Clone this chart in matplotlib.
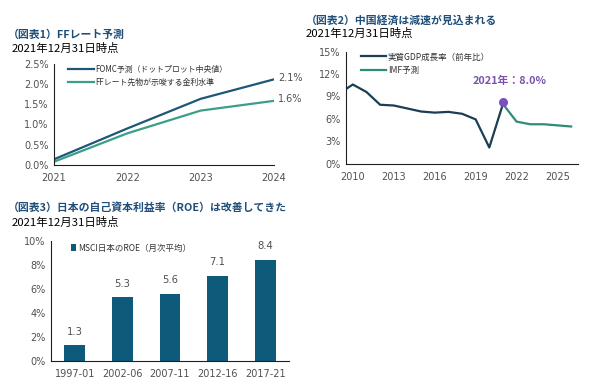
import numpy as np
import matplotlib
matplotlib.use("Agg")
import matplotlib.pyplot as plt

plt.rcParams['font.family'] = ['DejaVu Sans', 'Noto Sans CJK JP']
JP = ['Noto Sans CJK JP', 'DejaVu Sans']

# chart 1: FF rate projection
ff_years = [2021, 2022, 2023, 2024]
fomc = [0.14, 0.90, 1.63, 2.11]
ff_futures = [0.08, 0.78, 1.34, 1.58]
ff_end_labels = ["2.1%", "1.6%"]

# chart 2: China real GDP growth
gdp_years = list(range(2009, 2022))
gdp = [9.4, 10.6, 9.6, 7.9, 7.8, 7.4, 7.0, 6.85, 6.95, 6.7, 5.95, 2.2, 8.0]
imf_years = [2021, 2022, 2023, 2024, 2025, 2026]
imf = [8.0, 5.65, 5.3, 5.3, 5.15, 5.0]
dot_year = 2021
dot_value = 8.3

# chart 3: MSCI Japan ROE
periods = ["1997-01", "2002-06", "2007-11", "2012-16", "2017-21"]
roe = [1.3, 5.3, 5.6, 7.1, 8.4]

title_c = "#1F4E79"
tick_c = "#505050"

fig = plt.figure(figsize=(5.91, 3.83), dpi=100)


def style(ax):
    for s in ["top", "right"]:
        ax.spines[s].set_visible(False)
    for s in ["left", "bottom"]:
        ax.spines[s].set_color("#202020")
        ax.spines[s].set_linewidth(0.8)
    ax.tick_params(length=0, labelsize=7, colors=tick_c, pad=4)


def y2f(y):
    return 1 - y / 383.0


# ---- chart 1
ax1 = fig.add_axes([54 / 591, y2f(165), 220 / 591, (165 - 63.5) / 383])
ax1.plot(ff_years, fomc, color="#1D5778", lw=1.6, label="FOMC予測（ドットプロット中央値）")
ax1.plot(ff_years, ff_futures, color="#3B9E88", lw=1.6, label="FFレート先物が示唆する金利水準")
ax1.set_xlim(2021, 2024)
ax1.set_ylim(0, 2.5)
ax1.set_xticks(ff_years)
ax1.set_yticks(np.arange(0, 2.51, 0.5))
ax1.set_yticklabels([f"{v:.1f}%" for v in np.arange(0, 2.51, 0.5)])
style(ax1)
ax1.tick_params(axis="x", pad=6)
for v, t in zip([fomc[-1], ff_futures[-1]], ff_end_labels):
    ax1.annotate(t, (2024, v), xytext=(3, 1), textcoords="offset points",
                 fontsize=7, color=tick_c, va="center", ha="left", annotation_clip=False)
ax1.legend(loc="upper left", bbox_to_anchor=(0.03, 1.06), frameon=False,
           prop={'family': JP, 'size': 5.7}, handlelength=3.3, handletextpad=0.2,
           labelspacing=0.5, labelcolor="#303030")
fig.text(8 / 591, y2f(35), "（図表1）FFレート予測", family=JP, fontsize=7.8,
         fontweight="bold", color=title_c, va="center")
fig.text(12 / 591, y2f(48), "2021年12月31日時点", family=JP, fontsize=8.2,
         color="black", va="center")

# ---- chart 2
ax2 = fig.add_axes([346 / 591, y2f(164), 232 / 591, (164 - 51.5) / 383])
ax2.plot(gdp_years, gdp, color="#1B3E55", lw=1.6, label="実質GDP成長率（前年比）")
ax2.plot(imf_years, imf, color="#2F8C76", lw=1.6, label="IMF予測")
ax2.scatter([dot_year], [dot_value], s=30, color="#7B4FC0", zorder=5)
ax2.set_xlim(2009.5, 2026.5)
ax2.set_ylim(0, 15)
ax2.set_xticks(range(2010, 2026, 3))
ax2.set_yticks(range(0, 16, 3))
ax2.set_yticklabels([f"{v}%" for v in range(0, 16, 3)])
style(ax2)
ax2.tick_params(axis="x", pad=6)
ax2.text(2021.5, 11.1, "2021年：8.0%", family=JP, fontsize=7.8, fontweight="bold",
         color="#7A52AE", ha="center", va="center")
ax2.legend(loc="upper left", bbox_to_anchor=(0.03, 1.06), frameon=False,
           prop={'family': JP, 'size': 6.1}, handlelength=3.0, handletextpad=0.2,
           labelspacing=0.55, labelcolor="#303030")
fig.text(306 / 591, y2f(21), "（図表2）中国経済は減速が見込まれる", family=JP, fontsize=7.8,
         fontweight="bold", color=title_c, va="center")
fig.text(306 / 591, y2f(33), "2021年12月31日時点", family=JP, fontsize=8.2,
         color="black", va="center")

# ---- chart 3
ax3 = fig.add_axes([51 / 591, y2f(361), 238 / 591, (361 - 241) / 383])
x = np.arange(len(periods))
ax3.bar(x, roe, width=0.44, color="#0E5A7B", label="MSCI日本のROE（月次平均）")
ax3.set_xlim(-0.5, len(periods) - 0.5)
ax3.set_ylim(0, 10)
ax3.set_xticks(x)
ax3.set_xticklabels(periods)
ax3.set_yticks(range(0, 11, 2))
ax3.set_yticklabels([f"{v}%" for v in range(0, 11, 2)])
style(ax3)
ax3.tick_params(axis="x", pad=6)
for xi, v in zip(x, roe):
    ax3.annotate(f"{v:.1f}", (xi, v), xytext=(0, 10), textcoords="offset points",
                 ha="center", va="center", fontsize=7.2, color=tick_c)
ax3.legend(loc="upper left", bbox_to_anchor=(0.05, 1.04), frameon=False,
           prop={'family': JP, 'size': 6.1}, handlelength=0.6, handleheight=0.9,
           handletextpad=0.3, labelcolor="#303030")
fig.text(8 / 591, y2f(208), "（図表3）日本の自己資本利益率（ROE）は改善してきた", family=JP,
         fontsize=7.8, fontweight="bold", color=title_c, va="center")
fig.text(12 / 591, y2f(222), "2021年12月31日時点", family=JP, fontsize=8.2,
         color="black", va="center")

fig.savefig("out.png", dpi=100)
